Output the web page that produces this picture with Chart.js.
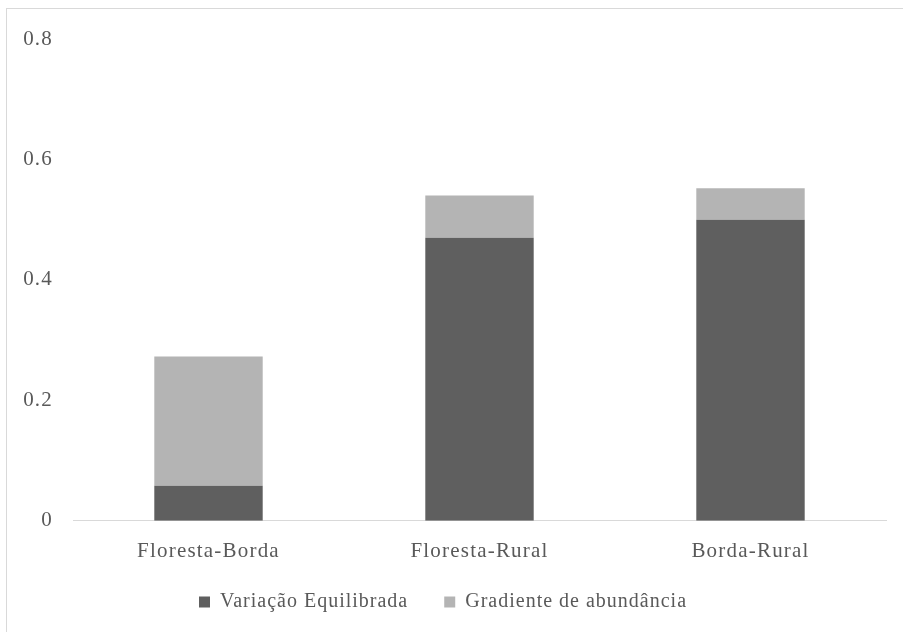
<!DOCTYPE html>
<html>
<head>
<meta charset="utf-8">
<script src="https://cdn.jsdelivr.net/npm/chart.js@4/dist/chart.umd.min.js"></script>
<style>
  html, body { margin: 0; padding: 0; background: #fff; }
  #wrap { width: 903px; height: 632px; position: relative; }
</style>
</head>
<body>
<div id="wrap"><canvas id="c" width="903" height="632"></canvas></div>
<script>
const categories = ['Floresta-Borda', 'Floresta-Rural', 'Borda-Rural'];
const variacaoEquilibrada = [0.058, 0.47, 0.50];
const gradienteAbundancia = [0.215, 0.07, 0.052];
const yTicks = [0, 0.2, 0.4, 0.6, 0.8];

const textColor = '#595959';
const serif = "'Liberation Serif', 'Times New Roman', serif";
const fontSize = 21;
const axisSpacing = '1.2px';
const legendSpacing = '1px';
const legendLift = 26; // the legend keeps a wide gap between its items but sits closer to the axis

// light frame around the whole figure, letter spacing of the labels, compact legend box
const framePlugin = {
  id: 'frame',
  afterInit(chart) {
    const lg = chart.legend;
    if (!lg) return;
    const origFit = lg.fit.bind(lg);
    const origDraw = lg.draw.bind(lg);
    lg.fit = function () {
      const ctx = chart.ctx;
      const prev = ctx.letterSpacing;
      ctx.letterSpacing = legendSpacing;
      origFit();
      ctx.letterSpacing = prev;
      lg.height -= legendLift;
    };
    lg.draw = function () {
      const ctx = chart.ctx;
      const prevTop = lg.top;
      ctx.save();
      ctx.letterSpacing = legendSpacing;
      lg.top = prevTop - legendLift;
      origDraw();
      lg.top = prevTop;
      ctx.restore();
    };
  },
  beforeUpdate(chart) { chart.ctx.letterSpacing = axisSpacing; },
  beforeDraw(chart) {
    const ctx = chart.ctx;
    ctx.letterSpacing = axisSpacing;
    ctx.save();
    ctx.fillStyle = '#ffffff';
    ctx.fillRect(0, 0, chart.width, chart.height);
    ctx.strokeStyle = '#d9d9d9';
    ctx.lineWidth = 1;
    ctx.strokeRect(6.5, 8.5, chart.width + 10, chart.height + 10);
    ctx.restore();
  }
};

new Chart(document.getElementById('c'), {
  type: 'bar',
  data: {
    labels: categories,
    datasets: [
      {
        label: 'Variação Equilibrada',
        data: variacaoEquilibrada,
        backgroundColor: '#5f5f5f',
        categoryPercentage: 1,
        barPercentage: 0.4
      },
      {
        label: 'Gradiente de abundância',
        data: gradienteAbundancia,
        backgroundColor: '#b4b4b4',
        categoryPercentage: 1,
        barPercentage: 0.4
      }
    ]
  },
  options: {
    responsive: false,
    animation: false,
    layout: { padding: { left: 0, right: 17, top: 39, bottom: 10 } },
    plugins: {
      legend: {
        position: 'bottom',
        labels: {
          color: textColor,
          font: { family: serif, size: 20 },
          boxWidth: 11,
          boxHeight: 11,
          padding: 36
        }
      },
      tooltip: { enabled: false }
    },
    scales: {
      x: {
        stacked: true,
        grid: { display: false, drawTicks: false },
        border: { display: true, color: '#d9d9d9', width: 1 },
        ticks: {
          color: textColor,
          font: { family: serif, size: fontSize },
          padding: 18
        }
      },
      y: {
        stacked: true,
        min: 0,
        max: 0.8,
        afterFit(scale) { scale.width = 73; },
        afterBuildTicks(scale) { scale.ticks = yTicks.map(v => ({ value: v })); },
        grid: { display: false, drawTicks: false },
        border: { display: false },
        ticks: {
          color: textColor,
          font: { family: serif, size: fontSize },
          padding: 20,
          callback: v => String(v)
        }
      }
    }
  },
  plugins: [framePlugin]
});
</script>
</body>
</html>
